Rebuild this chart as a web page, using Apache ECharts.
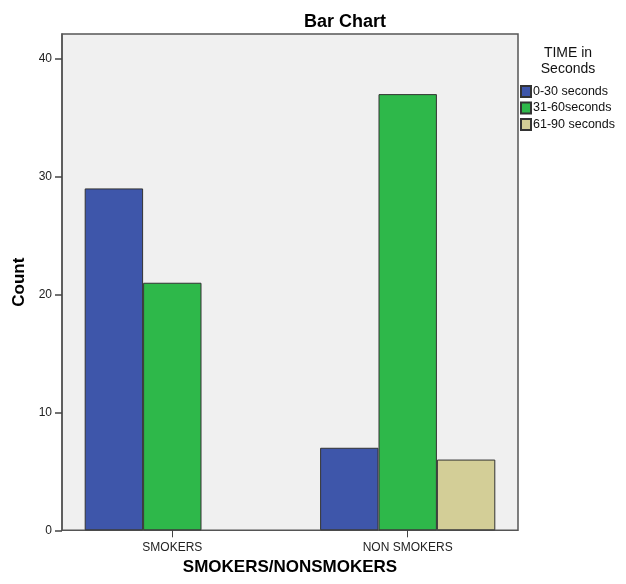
<!DOCTYPE html>
<html>
<head>
<meta charset="utf-8">
<script src="https://cdn.jsdelivr.net/npm/echarts@6/dist/echarts.min.js"></script>
<style>
html,body{margin:0;padding:0;background:#fff;}
#chart{width:626px;height:584px;}
</style>
</head>
<body>
<div id="chart"></div>
<script>
const categories = ['SMOKERS', 'NON SMOKERS'];
const seriesNames = ['0-30 seconds', '31-60seconds', '61-90 seconds'];
const values0to30 = [29, 7];
const values31to60 = [21, 37];
const values61to90 = [null, 6];
const yTickValues = [0, 10, 20, 30, 40];
const seriesColors = ['#3e56aa', '#2eb84a', '#d3ce97'];

const FONT = '"Liberation Sans", Arial, sans-serif';
const chart = echarts.init(document.getElementById('chart'), null, {renderer: 'canvas'});

const seriesValues = [values0to30, values31to60, values61to90];

const option = {
  animation: false,
  backgroundColor: '#ffffff',
  title: [
    {
      text: 'Bar Chart',
      left: 340, top: 8, textAlign: 'center',
      textStyle: {fontFamily: FONT, fontSize: 18, fontWeight: 'bold', color: '#000'}
    },
    {
      text: 'TIME in\nSeconds',
      left: 563, top: 40, textAlign: 'center',
      textStyle: {fontFamily: FONT, fontSize: 14, fontWeight: 'normal', color: '#111', lineHeight: 16}
    }
  ],
  legend: {
    orient: 'vertical',
    left: 520, top: 85, padding: 0,
    itemWidth: 10, itemHeight: 11, itemGap: 3.5,
    icon: 'rect',
    textStyle: {fontFamily: FONT, fontSize: 12.5, color: '#111', padding: [0,0,0,-3]},
    data: seriesNames
  },
  grid: [
    {
      left: 62, right: 108, top: 34, bottom: 53.7,
      show: true, backgroundColor: '#f0f0f0',
      borderColor: '#555', borderWidth: 1.5
    },
    {
      left: 54.6, right: 100.6, top: 34, bottom: 53.7,
      show: false
    }
  ],
  xAxis: [
    {gridIndex: 0, type: 'value', show: false, min: 0, max: 1},
    {
      gridIndex: 1, type: 'category', data: categories,
      axisLine: {show: false},
      axisTick: {show: true, alignWithLabel: true, length: 7, lineStyle: {color: '#444', width: 1}},
      axisLabel: {fontFamily: FONT, fontSize: 12, color: '#222', margin: 11},
      name: 'SMOKERS/NONSMOKERS', nameLocation: 'middle', nameGap: 29,
      nameTextStyle: {fontFamily: FONT, fontSize: 17, fontWeight: 'bold', color: '#000'}
    }
  ],
  yAxis: [
    {
      gridIndex: 0, type: 'value', min: 0, max: 42.1, interval: 10,
      axisLine: {show: true, lineStyle: {color: '#555', width: 1.5}},
      axisTick: {show: true, length: 7, customValues: yTickValues, lineStyle: {color: '#444', width: 1.5}},
      axisLabel: {fontFamily: FONT, fontSize: 12, color: '#222', margin: 10, customValues: yTickValues},
      splitLine: {show: false},
      name: 'Count', nameLocation: 'middle', nameGap: 34, nameRotate: 90,
      nameTextStyle: {fontFamily: FONT, fontSize: 17, fontWeight: 'bold', color: '#000'}
    },
    {
      gridIndex: 1, type: 'value', min: 0, max: 42.1, show: false, splitLine: {show: false}
    }
  ],
  series: seriesNames.map((name, i) => ({
    name: name,
    type: 'bar',
    xAxisIndex: 1, yAxisIndex: 1,
    data: seriesValues[i],
    barWidth: 58.4,
    barGap: '0%',
    itemStyle: {color: seriesColors[i], borderColor: '#333', borderWidth: 1}
  }))
};
chart.setOption(option);
</script>
</body>
</html>
